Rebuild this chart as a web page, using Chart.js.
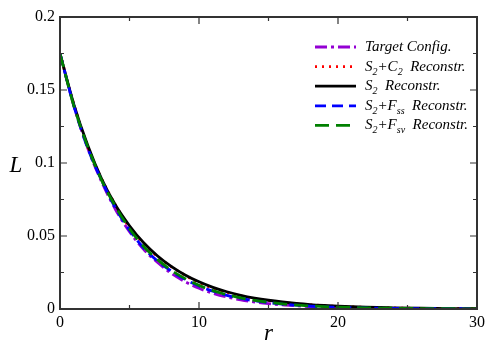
<!DOCTYPE html>
<html>
<head>
<meta charset="utf-8">
<script src="https://cdn.jsdelivr.net/npm/chart.js@4/dist/chart.umd.min.js"></script>
<style>
  html, body { margin: 0; padding: 0; background: #fff; }
  #wrap { width: 500px; height: 354px; position: relative; }
</style>
</head>
<body>
<div id="wrap"><canvas id="lChart" width="500" height="354"></canvas></div>
<script>
// r values (x axis)
var rValues = [0, 1, 2, 3, 4, 5, 6, 7, 8, 9, 10, 11, 12, 13, 14, 15, 16, 17, 18, 19, 20, 22, 24, 26, 28, 30];

// L(r) for each configuration
var targetConfig = [0.175, 0.139, 0.110, 0.087, 0.068, 0.053, 0.041, 0.032, 0.0245, 0.0187, 0.0142, 0.0108, 0.0082, 0.0063, 0.0048, 0.0037, 0.0028, 0.0022, 0.0017, 0.0013, 0.001, 0.0006, 0.0004, 0.0002, 0.0001, 0.0001];
var s2c2Recon = [0.175, 0.140, 0.111, 0.089, 0.071, 0.056, 0.045, 0.036, 0.029, 0.023, 0.018, 0.0143, 0.0114, 0.009, 0.0072, 0.0057, 0.0045, 0.0036, 0.0029, 0.0023, 0.0018, 0.0011, 0.0007, 0.0004, 0.0003, 0.0002];
var s2Recon = [0.175, 0.140, 0.112, 0.089, 0.071, 0.057, 0.0455, 0.0365, 0.0292, 0.0233, 0.0186, 0.0148, 0.0118, 0.0094, 0.0075, 0.006, 0.0048, 0.0038, 0.003, 0.0024, 0.0019, 0.0012, 0.0008, 0.0005, 0.0003, 0.0002];
var s2FssRecon = [0.175, 0.139, 0.110, 0.088, 0.069, 0.054, 0.042, 0.033, 0.026, 0.0203, 0.0158, 0.0122, 0.0094, 0.0073, 0.0056, 0.0043, 0.0033, 0.0026, 0.002, 0.0015, 0.0012, 0.0007, 0.0004, 0.0003, 0.0002, 0.0001];
var s2FsvRecon = [0.175, 0.139, 0.111, 0.088, 0.070, 0.055, 0.043, 0.034, 0.0265, 0.0208, 0.0162, 0.0126, 0.0098, 0.0076, 0.0059, 0.0046, 0.0035, 0.0027, 0.0021, 0.0016, 0.0013, 0.0008, 0.0005, 0.0003, 0.0002, 0.0001];

var seriesLabels = ['Target Config.', 'S_2+C_2  Reconstr.', 'S_2  Reconstr.', 'S_2+F_{ss}  Reconstr.', 'S_2+F_{sv}  Reconstr.'];
var xTicks = [0, 10, 20, 30];
var yTicks = [0, 0.05, 0.1, 0.15, 0.2];

var serif = '"Liberation Serif", "DejaVu Serif", serif';

function toPoints(ys) {
    return rValues.map(function(r, i) { return { x: r, y: ys[i] }; });
}

function makeSet(label, ys, color, dash, width, order) {
    return {
        label: label,
        data: toPoints(ys),
        borderColor: color,
        borderDash: dash,
        borderWidth: width,
        pointRadius: 0,
        fill: false,
        cubicInterpolationMode: 'monotone',
        order: order
    };
}

// split "S_2+F_{ss} Reconstr." into normal / subscript pieces
function splitSub(text) {
    var parts = [];
    var re = /_\{([^}]*)\}|_(.)/g;
    var last = 0, m;
    while ((m = re.exec(text)) !== null) {
        if (m.index > last) parts.push({ t: text.slice(last, m.index), sub: false });
        parts.push({ t: m[1] || m[2], sub: true });
        last = re.lastIndex;
    }
    if (last < text.length) parts.push({ t: text.slice(last), sub: false });
    return parts;
}

var framePlugin = {
    id: 'frame',
    afterDraw: function(chart) {
        var ctx = chart.ctx;
        var a = chart.chartArea;
        var xs = chart.scales.x, ys = chart.scales.y;
        ctx.save();
        ctx.strokeStyle = '#333';
        ctx.lineWidth = 2;
        ctx.strokeRect(a.left, a.top, a.right - a.left, a.bottom - a.top);

        ctx.lineWidth = 1.2;
        ctx.beginPath();
        for (var v = 0; v <= 30; v += 5) {
            var px = xs.getPixelForValue(v);
            var len = (v % 10 === 0) ? 7 : 4;
            ctx.moveTo(px, a.bottom); ctx.lineTo(px, a.bottom - len);
            ctx.moveTo(px, a.top); ctx.lineTo(px, a.top + len);
        }
        for (var k = 0; k <= 8; k++) {
            var py = ys.getPixelForValue(k * 0.025);
            var l2 = (k % 2 === 0) ? 7 : 4;
            ctx.moveTo(a.left, py); ctx.lineTo(a.left + l2, py);
            ctx.moveTo(a.right, py); ctx.lineTo(a.right - l2, py);
        }
        ctx.stroke();

        // axis titles
        ctx.fillStyle = '#000';
        ctx.font = 'italic 23px ' + serif;
        ctx.textAlign = 'center';
        ctx.textBaseline = 'middle';
        ctx.fillText('r', (a.left + a.right) / 2, 334);
        ctx.fillText('L', 16, 166);

        // legend
        var sets = chart.data.datasets;
        var y0 = 47, step = 19.6;
        for (var i = 0; i < sets.length; i++) {
            var d = sets[i];
            var y = y0 + i * step;
            ctx.strokeStyle = d.borderColor;
            ctx.lineWidth = d.borderWidth;
            ctx.setLineDash(d.borderDash || []);
            ctx.beginPath();
            ctx.moveTo(315, y); ctx.lineTo(356, y);
            ctx.stroke();
            ctx.setLineDash([]);

            var x = 365;
            ctx.textAlign = 'left';
            ctx.textBaseline = 'alphabetic';
            var parts = splitSub(d.label);
            for (var j = 0; j < parts.length; j++) {
                var p = parts[j];
                ctx.font = p.sub ? 'italic 10px ' + serif : 'italic 15px ' + serif;
                ctx.fillText(p.t, x, p.sub ? y + 8 : y + 4);
                x += ctx.measureText(p.t).width;
            }
        }
        ctx.restore();
    }
};

var ctx = document.getElementById('lChart').getContext('2d');
var lChart = new Chart(ctx, {
    type: 'line',
    data: {
        datasets: [
            makeSet(seriesLabels[0], targetConfig, '#9400d3', [12, 4, 3, 4], 2.8, 4),
            makeSet(seriesLabels[1], s2c2Recon, '#ff0000', [2, 5], 2.8, 3),
            makeSet(seriesLabels[2], s2Recon, '#000000', [], 2.8, 2),
            makeSet(seriesLabels[3], s2FssRecon, '#0000ff', [11, 6], 2.8, 1),
            makeSet(seriesLabels[4], s2FsvRecon, '#008000', [14, 7], 2.8, 0)
        ]
    },
    options: {
        responsive: false,
        animation: false,
        layout: { padding: { left: 0, top: 17, right: 23, bottom: 0 } },
        plugins: {
            legend: { display: false },
            tooltip: { enabled: false }
        },
        scales: {
            x: {
                type: 'linear',
                min: 0,
                max: 30,
                afterFit: function(s) { s.height = 45; },
                afterBuildTicks: function(s) { s.ticks = xTicks.map(function(v) { return { value: v }; }); },
                grid: { display: false, drawTicks: false },
                border: { display: false },
                ticks: {
                    padding: 4,
                    color: '#000',
                    font: { family: serif, size: 16 },
                    callback: function(v) { return String(v); }
                }
            },
            y: {
                type: 'linear',
                min: 0,
                max: 0.2,
                afterFit: function(s) { s.width = 60; },
                afterBuildTicks: function(s) { s.ticks = yTicks.map(function(v) { return { value: v }; }); },
                grid: { display: false, drawTicks: false },
                border: { display: false },
                ticks: {
                    padding: 5,
                    color: '#000',
                    font: { family: serif, size: 16 },
                    callback: function(v) { return String(Math.round(v * 1000) / 1000); }
                }
            }
        }
    },
    plugins: [framePlugin]
});
</script>
</body>
</html>
